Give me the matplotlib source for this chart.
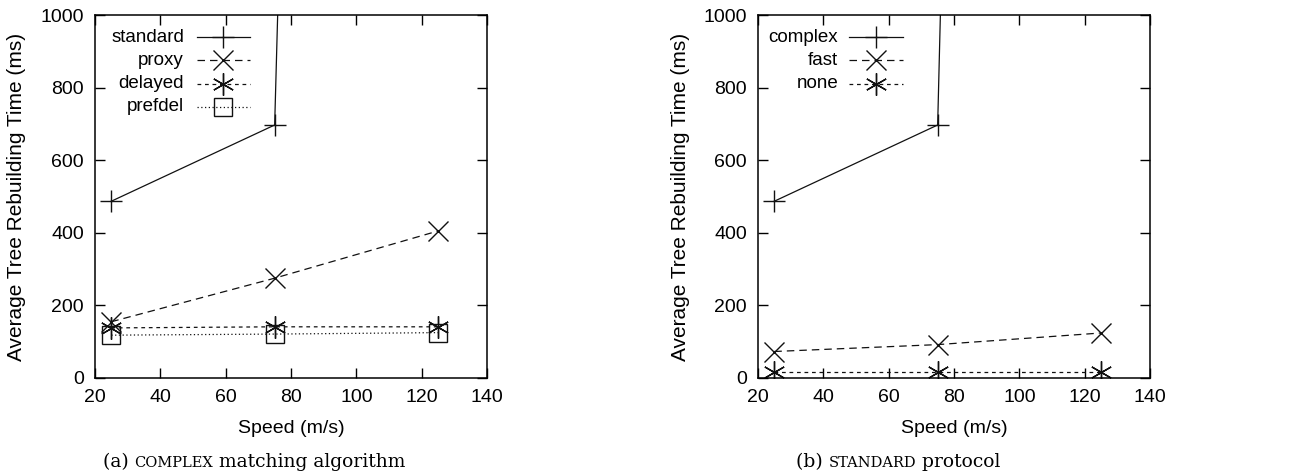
import matplotlib
matplotlib.use('Agg')
import matplotlib.pyplot as plt
from matplotlib.lines import Line2D
from matplotlib.offsetbox import TextArea, HPacker, AnnotationBbox

plt.rcParams['font.family'] = ['Liberation Sans', 'DejaVu Sans']
plt.rcParams['font.size'] = 13.5

speed = [25, 75, 125]

# panel (a): COMPLEX matching algorithm
a_labels = ['standard', 'proxy', 'delayed', 'prefdel']
a_standard = [487, 697, 17200]
a_proxy = [155, 275, 405]
a_delayed = [138, 141, 141]
a_prefdel = [118, 121, 125]

# panel (b): STANDARD protocol
b_labels = ['complex', 'fast', 'none']
b_complex = [487, 697, 19000]
b_fast = [73, 92, 124]
b_none = [17, 17, 17]

asterisk = (6, 2, 0)
styles = [
    dict(ls='-', marker='+', ms=16, mew=1.0),
    dict(ls=(0, (6, 4)), marker='x', ms=14, mew=1.0),
    dict(ls=(0, (3, 3)), marker=asterisk, ms=16, mew=1.0),
    dict(ls=(0, (1, 2)), marker='s', ms=13, mew=1.0, mfc='none'),
]

fig = plt.figure(figsize=(13.01, 4.76), dpi=100)
W, H = 1301, 476
ax_a = fig.add_axes([95 / W, 1 - 378 / H, 392 / W, 363 / H])
ax_b = fig.add_axes([758 / W, 1 - 378 / H, 392 / W, 363 / H])


def draw(ax, series, labels, txt_x, line_x0, line_x1):
    for i, (ys, lab) in enumerate(zip(series, labels)):
        st = styles[i]
        ax.plot(speed, ys, color='#111111', lw=0.9, clip_on=True, **st)
        # gnuplot-style key: right-aligned text then sample
        yk = 0.939 - i * 0.064
        ax.text(txt_x, yk, lab, transform=ax.transAxes, ha='right', va='center', fontsize=13.5)
        ax.add_line(Line2D([line_x0, line_x1], [yk, yk], transform=ax.transAxes,
                           color='#111111', lw=0.9, ls=st['ls']))
        ax.add_line(Line2D([(line_x0 + line_x1) / 2], [yk], transform=ax.transAxes,
                           color='#111111', ls='none', marker=st['marker'], ms=st['ms'],
                           mew=st['mew'], mfc=st.get('mfc', 'none')))
    ax.set_xlim(20, 140)
    ax.set_ylim(0, 1000)
    ax.set_xticks(range(20, 141, 20))
    ax.set_yticks(range(0, 1001, 200))
    ax.tick_params(direction='in', length=7, width=1, top=True, right=True, pad=8,
                   labelsize=14)
    for s in ax.spines.values():
        s.set_linewidth(1.1)
    ax.set_xlabel('Speed (m/s)', labelpad=10, fontsize=14)
    ax.set_ylabel('Average Tree Rebuilding Time (ms)', labelpad=10, fontsize=15)


draw(ax_a, [a_standard, a_proxy, a_delayed, a_prefdel], a_labels, 0.227, 0.259, 0.396)
draw(ax_b, [b_complex, b_fast, b_none], b_labels, 0.205, 0.232, 0.371)


def caption(x, parts):
    boxes = []
    for txt, size in parts:
        boxes.append(TextArea(txt, textprops=dict(family='DejaVu Serif', size=size)))
    pack = HPacker(children=boxes, align='baseline', pad=0, sep=0)
    ab = AnnotationBbox(pack, (x, 1 - 462 / H), xycoords='figure fraction',
                        frameon=False, box_alignment=(0.5, 0.5))
    fig.add_artist(ab)


caption(254 / W, [('(a) ', 13.5), ('COMPLEX', 10.5), (' matching algorithm', 13.5)])
caption(898 / W, [('(b) ', 13.5), ('STANDARD', 10.5), (' protocol', 13.5)])

plt.savefig('out.png', dpi=100)
